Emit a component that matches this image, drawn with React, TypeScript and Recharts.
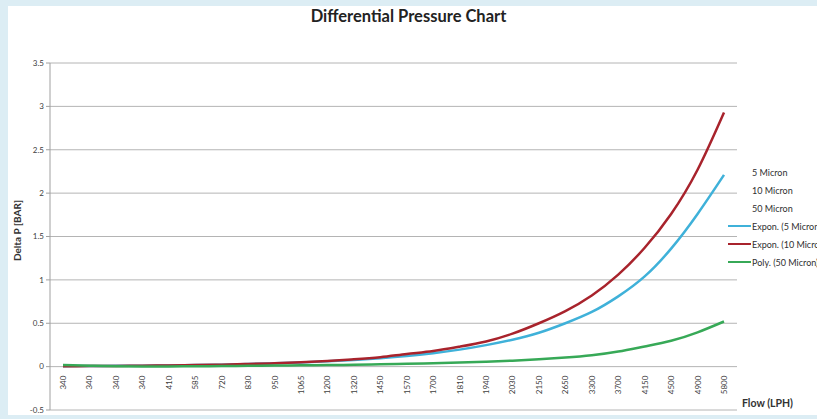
import React from 'react'
import { CartesianGrid, Legend, Line, LineChart, XAxis, YAxis } from 'recharts'

// flow labels as printed under the chart (LPH)
const flows = [
  '340', '340', '340', '340', '410', '585', '720', '830', '950', '1065',
  '1200', '1320', '1450', '1570', '1700', '1810', '1940', '2030', '2150', '2650',
  '3300', '3700', '4150', '4500', '4900', '5800'
]

// trendline values (BAR)
const expon5 = [
  0.005, 0.007, 0.009, 0.011, 0.014, 0.018, 0.023, 0.03, 0.038, 0.048,
  0.061, 0.077, 0.097, 0.122, 0.155, 0.196, 0.248, 0.31, 0.39, 0.5,
  0.63, 0.81, 1.04, 1.36, 1.76, 2.21
]
const expon10 = [
  0.005, 0.006, 0.008, 0.011, 0.014, 0.018, 0.023, 0.03, 0.039, 0.05,
  0.065, 0.084, 0.108, 0.145, 0.18, 0.23, 0.29, 0.38, 0.5, 0.64,
  0.82, 1.06, 1.37, 1.76, 2.27, 2.93
]
const poly50 = [
  0.018, 0.01, 0.004, 0.002, 0.002, 0.004, 0.006, 0.009, 0.012, 0.015,
  0.018, 0.021, 0.026, 0.032, 0.039, 0.047, 0.057, 0.069, 0.084, 0.104,
  0.131, 0.174, 0.233, 0.298, 0.395, 0.52
]

const yTicks = [-0.5, 0, 0.5, 1, 1.5, 2, 2.5, 3, 3.5]

const legendItems = [
  { name: '5 Micron', color: '' },
  { name: '10 Micron', color: '' },
  { name: '50 Micron', color: '' },
  { name: 'Expon. (5 Micron)', color: '#3fb1d9' },
  { name: 'Expon. (10 Micron)', color: '#a8232c' },
  { name: 'Poly. (50 Micron)', color: '#37a957' }
]

const data = flows.map((f, i) => ({
  idx: i,
  flow: f,
  e5: expon5[i],
  e10: expon10[i],
  p50: poly50[i]
}))

const FONT = 'Lato, "Open Sans", sans-serif'
const PLOT_H = 347
const ZERO_SHIFT = (PLOT_H * 0.5) / 4

function FlowTick(props: any) {
  const { x, y, payload } = props
  const top = y - ZERO_SHIFT + 1
  return (
    <text
      x={x + 3}
      y={top}
      transform={`rotate(-90 ${x + 3} ${top})`}
      textAnchor="end"
      fontSize={8}
      fill="#404040"
      fontFamily={FONT}
    >
      {flows[payload.value]}
    </text>
  )
}

function LegendBox() {
  return (
    <div style={{ fontFamily: FONT, fontSize: 9, color: '#303030' }}>
      {legendItems.map((it) => (
        <div key={it.name} style={{ height: 18, display: 'flex', alignItems: 'center', whiteSpace: 'nowrap' }}>
          <span
            style={{
              display: 'inline-block',
              width: 23,
              height: 2.5,
              marginRight: 1,
              background: it.color || 'transparent'
            }}
          />
          {it.name}
        </div>
      ))}
    </div>
  )
}

export default function App() {
  return (
    <div
      style={{
        position: 'absolute',
        left: 0,
        top: 0,
        width: 817,
        height: 419,
        background: '#dcedf4',
        overflow: 'hidden'
      }}
    >
      <div style={{ position: 'absolute', left: 8, top: 6, width: 809, height: 409, background: '#fff' }}>
        <div
          style={{
            position: 'absolute',
            left: 0,
            width: 801,
            top: 0,
            textAlign: 'center',
            fontFamily: FONT,
            fontWeight: 'bold',
            fontSize: 16.5,
            color: '#222'
          }}
        >
          Differential Pressure Chart
        </div>
        <div
          style={{
            position: 'absolute',
            left: 734,
            top: 391,
            fontFamily: FONT,
            fontWeight: 'bold',
            fontSize: 10.5,
            color: '#333'
          }}
        >
          Flow (LPH)
        </div>
        <LineChart width={809} height={409} data={data} margin={{ top: 57, right: 80, bottom: 4, left: 4 }}>
          <CartesianGrid stroke="#b4b4b4" vertical={false} />
          <XAxis
            dataKey="idx"
            type="category"
            height={1}
            interval={0}
            axisLine={false}
            tickLine={false}
            padding={{ left: 13, right: 13 }}
            tick={<FlowTick />}
          />
          <YAxis
            width={38}
            domain={[-0.5, 3.5]}
            ticks={yTicks}
            interval={0}
            tickFormatter={(v) => String(v)}
            tick={{ fill: '#404040', fontSize: 8, fontFamily: FONT }}
            tickSize={4}
            tickMargin={2}
            stroke="#a0a0a0"
            axisLine={{ stroke: '#a0a0a0' }}
            tickLine={{ stroke: '#a0a0a0' }}
            label={{
              content: (p: any) => {
                const vb = p.viewBox
                const cx = vb.x + 9
                const cy = vb.y + vb.height / 2 - 6
                return (
                  <text
                    x={cx}
                    y={cy}
                    transform={`rotate(-90 ${cx} ${cy})`}
                    textAnchor="middle"
                    fontSize={10}
                    fontWeight="bold"
                    fill="#333"
                    fontFamily={FONT}
                  >
                    Delta P [BAR]
                  </text>
                )
              }
            }}
          />
          <Legend
            layout="vertical"
            align="center"
            verticalAlign="middle"
            wrapperStyle={{ left: 720, top: 157, width: 120 }}
            content={() => <LegendBox />}
          />
          <Line type="natural" dataKey="e5" name="Expon. (5 Micron)" stroke="#3fb1d9" strokeWidth={2.5} dot={false} isAnimationActive={false} />
          <Line type="natural" dataKey="e10" name="Expon. (10 Micron)" stroke="#a8232c" strokeWidth={2.5} dot={false} isAnimationActive={false} />
          <Line type="natural" dataKey="p50" name="Poly. (50 Micron)" stroke="#37a957" strokeWidth={2.5} dot={false} isAnimationActive={false} />
        </LineChart>
      </div>
    </div>
  )
}
